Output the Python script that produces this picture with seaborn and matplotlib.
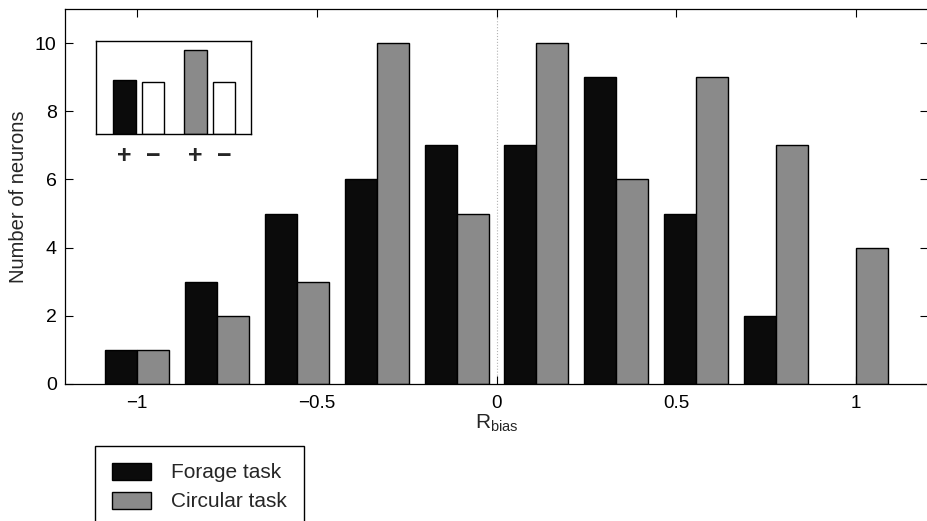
import numpy as np
import pandas as pd
import matplotlib
matplotlib.use("Agg")
import matplotlib.pyplot as plt
import seaborn as sns

# ---- data ----
bin_centers = [-1.0, -0.7778, -0.5556, -0.3333, -0.1111, 0.1111, 0.3333, 0.5556, 0.7778, 1.0]
forage = [1, 3, 5, 6, 7, 7, 9, 5, 2, 0]
circular = [1, 2, 3, 10, 5, 10, 6, 9, 7, 4]
series_names = ["Forage task", "Circular task"]
x_ticks = [-1, -0.5, 0, 0.5, 1]
x_ticklabels = ["\u22121", "\u22120.5", "0", "0.5", "1"]
y_ticks = [0, 2, 4, 6, 8, 10]

inset_pos = [1.0, 2.0, 3.5, 4.5]
inset_vals = [0.58, 0.56, 0.90, 0.56]
inset_labels = ["+", "\u2212", "+", "\u2212"]

sns.set_theme(style="white")
plt.rcParams["font.family"] = ["Liberation Sans", "DejaVu Sans"]
plt.rcParams["mathtext.fontset"] = "custom"
plt.rcParams["mathtext.rm"] = "Liberation Sans"

df = pd.DataFrame({
    "x": bin_centers * 2,
    "count": forage + circular,
    "task": [series_names[0]] * len(forage) + [series_names[1]] * len(circular),
})

colors = {"Forage task": "#0b0b0b", "Circular task": "#8a8a8a"}

fig = plt.figure(figsize=(9.27, 5.21), dpi=100)
ax = fig.add_axes([65 / 927, 1 - 384 / 521, 863 / 927, 375 / 521])

sns.barplot(data=df, x="x", y="count", hue="task", native_scale=True,
            palette=colors, edgecolor="black", linewidth=1.0, width=0.8,
            saturation=1, ax=ax, legend=True)
for p in ax.patches:
    if p.get_height() == 0:
        p.set_linewidth(0)

ax.axvline(0, color="0.7", lw=0.8, ls=":", zorder=0)
ax.set_xlim(-1.2, 1.2)
ax.set_ylim(0, 11)
ax.set_xticks(x_ticks)
ax.set_xticklabels(x_ticklabels)
ax.set_yticks(y_ticks)
ax.tick_params(direction="in", length=6, width=0.8, labelsize=13.5, colors="black",
               top=True, right=True, bottom=True, left=True)
ax.tick_params(axis="x", pad=8)
ax.tick_params(axis="y", pad=6, labelsize=14)
ax.set_xlabel("R$_{\\mathregular{bias}}$", fontsize=15, labelpad=0)
ax.set_ylabel("Number of neurons", fontsize=14.5, labelpad=5)
for s in ax.spines.values():
    s.set_color("black")
    s.set_linewidth(0.9)

handles, labels = ax.get_legend_handles_labels()
ax.get_legend().remove()
leg = fig.legend(handles, labels, loc="upper left",
                 bbox_to_anchor=(95 / 927, 1 - 446 / 521), bbox_transform=fig.transFigure,
                 fontsize=15, frameon=True, fancybox=False, edgecolor="black",
                 framealpha=1, handlelength=1.9, handleheight=0.87, handletextpad=0.95,
                 labelspacing=0.45, borderpad=0.8, borderaxespad=0)
for h in leg.legend_handles:
    h.set_edgecolor("black")
    h.set_linewidth(1.0)

# ---- inset ----
ins = fig.add_axes([96 / 927, 1 - 134 / 521, 155 / 927, 93 / 521])
idf = pd.DataFrame({"x": inset_pos, "v": inset_vals})
sns.barplot(data=idf, x="x", y="v", native_scale=True, color="white",
            edgecolor="black", linewidth=1.0, width=0.8, ax=ins)
inset_fc = ["#0b0b0b", "white", "#8a8a8a", "white"]
for p, c in zip(ins.patches, inset_fc):
    p.set_facecolor(c)
ins.set_xlim(0, 5.45)
ins.set_ylim(0, 1)
ins.set_xticks(inset_pos)
ins.set_xticklabels(inset_labels, fontsize=18, fontweight="bold")
ins.tick_params(axis="x", length=0, pad=7)
ins.set_yticks([])
ins.set_xlabel("")
ins.set_ylabel("")
for s in ins.spines.values():
    s.set_color("black")
    s.set_linewidth(1.0)

fig.savefig("out.png", dpi=100, facecolor="white")
